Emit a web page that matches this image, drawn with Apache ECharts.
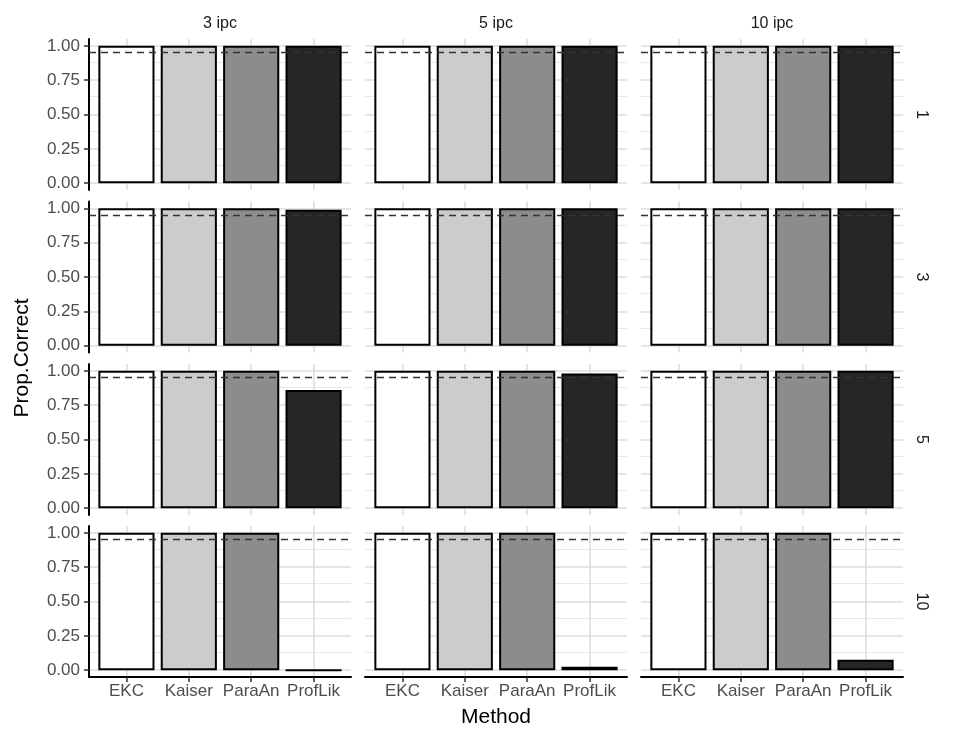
<!DOCTYPE html>
<html>
<head>
<meta charset="utf-8">
<script src="https://cdn.jsdelivr.net/npm/echarts@6/dist/echarts.min.js"></script>
<style>
html,body{margin:0;padding:0;background:#fff;}
#chart{width:953px;height:735px;}
</style>
</head>
<body>
<div id="chart"></div>
<script>
// ---- data ----
const columns = ['3 ipc', '5 ipc', '10 ipc'];
const rows = ['1', '3', '5', '10'];
const methods = ['EKC', 'Kaiser', 'ParaAn', 'ProfLik'];
const methodPos = [1, 2, 3, 4];
// proportion correct: per row (number of factors), per column (ipc), per method
const factors1  = [[1, 1, 1, 1],    [1, 1, 1, 1],     [1, 1, 1, 1]];
const factors3  = [[1, 1, 1, 0.99], [1, 1, 1, 1],     [1, 1, 1, 1]];
const factors5  = [[1, 1, 1, 0.86], [1, 1, 1, 0.98],  [1, 1, 1, 1]];
const factors10 = [[1, 1, 1, 0],    [1, 1, 1, 0.025], [1, 1, 1, 0.075]];
const refLine = 0.95;
const yTicks = [0, 0.25, 0.5, 0.75, 1];
const yMinor = [0.125, 0.375, 0.625, 0.875];

const values = [factors1, factors3, factors5, factors10];
const fills = ['#ffffff', '#cccccc', '#8c8c8c', '#262626'];

// ---- layout ----
const colLeft = [89, 365, 641];
const panelW = 262;
const rowTop = [39, 201.5, 364, 526];
const panelH = 151;
const barW = 0.9 * panelW / 4.2;
const FONT = '"Liberation Sans", Arial, sans-serif';

const grid = [], xAxis = [], yAxis = [], series = [], graphic = [];
let idx = 0;
for (let r = 0; r < rows.length; r++) {
  for (let c = 0; c < columns.length; c++) {
    const isLeft = c === 0, isBottom = r === rows.length - 1;
    grid.push({left: colLeft[c], top: rowTop[r], width: panelW, height: panelH, containLabel: false});
    xAxis.push({
      type: 'value', gridIndex: idx, min: 0.4, max: 4.6,
      axisLine: {show: isBottom, onZero: false, lineStyle: {color: '#000', width: 2}},
      axisTick: {show: isBottom, customValues: methodPos, length: 5, lineStyle: {color: '#333', width: 1.5}},
      axisLabel: {show: isBottom, customValues: methodPos, margin: 6, color: '#4d4d4d', fontSize: 17, fontFamily: FONT,
        formatter: v => methods[Math.round(v) - 1] || ''},
      splitLine: {show: false},
      name: (isBottom && c === 1) ? 'Method' : '',
      nameLocation: 'middle', nameGap: 30,
      nameTextStyle: {color: '#000', fontSize: 21, fontFamily: FONT}
    });
    yAxis.push({
      type: 'value', gridIndex: idx, min: -0.05, max: 1.05,
      axisLine: {show: isLeft, lineStyle: {color: '#000', width: 2}},
      axisTick: {show: isLeft, customValues: yTicks, length: 5, lineStyle: {color: '#333', width: 1.5}},
      axisLabel: {show: isLeft, customValues: yTicks, margin: 9, color: '#4d4d4d', fontSize: 17, fontFamily: FONT,
        formatter: v => v.toFixed(2)},
      splitLine: {show: false}
    });
    // gridlines (behind bars)
    series.push({
      type: 'line', xAxisIndex: idx, yAxisIndex: idx, data: [], silent: true,
      markLine: {
        silent: true, symbol: 'none', animation: false, z: 0,
        label: {show: false},
        data: [
          ...yTicks.map(v => ({yAxis: v, lineStyle: {color: '#dedede', width: 1.6, type: 'solid'}})),
          ...yMinor.map(v => ({yAxis: v, lineStyle: {color: '#e8e8e8', width: 1, type: 'solid'}})),
          ...methodPos.map(v => ({xAxis: v, lineStyle: {color: '#dedede', width: 1.6, type: 'solid'}}))
        ]
      }
    });
    // bars
    series.push({
      type: 'bar', xAxisIndex: idx, yAxisIndex: idx, barWidth: barW, z: 2, animation: false,
      data: methodPos.map((p, m) => ({
        value: [p, values[r][c][m]],
        itemStyle: {color: fills[m], borderColor: '#000', borderWidth: 2}
      }))
    });
    // reference dashed line
    series.push({
      type: 'line', xAxisIndex: idx, yAxisIndex: idx, data: [], silent: true,
      markLine: {
        silent: true, symbol: 'none', animation: false, z: 10,
        label: {show: false},
        lineStyle: {color: '#333', width: 1.3, type: [7, 5]},
        data: [{yAxis: refLine}]
      }
    });
    idx++;
  }
}

// strip labels
columns.forEach((t, c) => graphic.push({
  type: 'text', x: colLeft[c] + panelW / 2, y: 24, silent: true,
  style: {text: t, fill: '#1a1a1a', fontSize: 16, fontFamily: FONT, align: 'center', verticalAlign: 'middle'}
}));
rows.forEach((t, r) => graphic.push({
  type: 'text', x: 921, y: rowTop[r] + panelH / 2, rotation: -Math.PI / 2, silent: true,
  style: {text: t, fill: '#1a1a1a', fontSize: 16, fontFamily: FONT, align: 'center', verticalAlign: 'middle'}
}));
graphic.push({
  type: 'text', x: 22, y: (rowTop[0] + rowTop[3] + panelH) / 2, rotation: Math.PI / 2, silent: true,
  style: {text: 'Prop.Correct', fill: '#000', fontSize: 21, fontFamily: FONT, align: 'center', verticalAlign: 'middle'}
});

const chart = echarts.init(document.getElementById('chart'), null, {renderer: 'canvas'});
chart.setOption({
  backgroundColor: '#ffffff',
  animation: false,
  grid, xAxis, yAxis, series, graphic
});
</script>
</body>
</html>
